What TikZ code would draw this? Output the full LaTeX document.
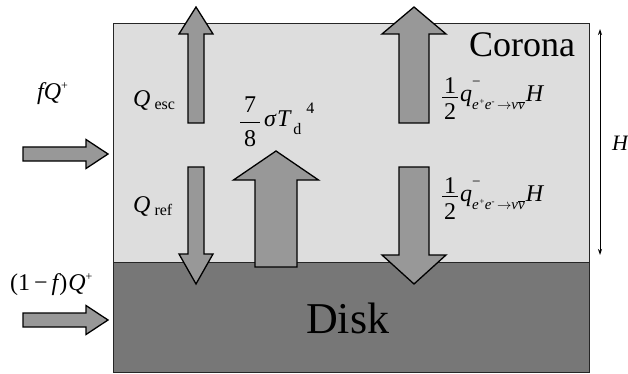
\documentclass[tikz,border=0pt]{standalone}
\usepackage{fontspec}
\setmainfont{Liberation Serif}
\usetikzlibrary{arrows.meta}
\definecolor{coronagray}{HTML}{DDDDDD}
\definecolor{diskgray}{HTML}{777777}
\definecolor{arrowgray}{HTML}{989898}
\tikzset{
  blockarrow/.style={fill=arrowgray,draw=black,line width=1.3pt,line join=miter},
  lab/.style={anchor=base west,inner sep=0pt,font=\fontsize{24}{28}\selectfont},
  region/.style={draw=black!85,line width=0.8pt}
}
\newcommand{\vblock}[6]{% cx, half width, shaft end, head base, head half width, tip
  \draw[blockarrow] (#1-#2,#3) -- (#1-#2,#4) -- (#1-#5,#4) -- (#1,#6) -- (#1+#5,#4) -- (#1+#2,#4) -- (#1+#2,#3) -- cycle;}
\newcommand{\hblock}[6]{% cy, half height, shaft end, head base, head half height, tip
  \draw[blockarrow] (#3,#1-#2) -- (#4,#1-#2) -- (#4,#1-#5) -- (#6,#1) -- (#4,#1+#5) -- (#4,#1+#2) -- (#3,#1+#2) -- cycle;}
% fraction: num, den, width, num raise, den lower
\newcommand{\nfrac}[5]{\rlap{\makebox[#3][c]{\raisebox{#4}{#1}}}\rlap{\rule[4pt]{#3}{0.8pt}}\makebox[#3][c]{\raisebox{-#5}{#2}}}
\newcommand{\smallsz}{\fontsize{16}{18}\selectfont}
\newcommand{\subsz}{\fontsize{15}{17}\selectfont}
\newcommand{\tinysz}{\fontsize{9}{10}\selectfont}
\newcommand{\qlabel}{\nfrac{1}{2}{16pt}{8pt}{18pt}\hspace{2pt}{\itshape q}\rlap{\raisebox{15pt}{\subsz −}}\raisebox{-8pt}{\subsz\itshape e\raisebox{5pt}{\tinysz +}e\raisebox{5pt}{\tinysz -}\,$\rightarrow$ν$\overline{\mbox{ν}}$}\hspace{1pt}{\itshape H}}
\begin{document}
\begin{tikzpicture}[x=1pt,y=-1pt]
\useasboundingbox (0,0) rectangle (628,374);
\fill[white] (0,0) rectangle (628,374);
% regions
\draw[region,fill=coronagray] (113,23) rectangle (589,262);
\draw[region,fill=diskgray] (113,262) rectangle (589,372);
\node[anchor=base west,inner sep=0pt,font=\fontsize{36}{40}\selectfont] (corona) at (469,57) {Corona};
\node[anchor=base west,inner sep=0pt,font=\fontsize{44}{50}\selectfont] (disk) at (306,333) {Disk};
% block arrows
\vblock{196}{8}{123}{34}{17}{7}
\vblock{196}{8}{167}{254}{17}{284}
\vblock{276}{21}{267}{180}{42.5}{151}
\vblock{414}{15}{123}{34}{32}{7}
\vblock{414}{15}{167}{255}{32}{284}
\hblock{154}{7}{23}{86}{14.5}{108}
\hblock{320}{7}{23}{86}{14.5}{108}
% height marker
\coordinate (htop) at (600,29);
\coordinate (hbot) at (600,255);
\draw[{Stealth[length=6pt,width=4pt]}-{Stealth[length=6pt,width=4pt]},line width=0.9pt] (htop) -- (hbot);
\node[lab,font=\fontsize{22}{26}\selectfont] (hlab) at (612,150) {\itshape H};
% labels
\node[lab] (fq) at (37,100) {{\itshape fQ}\raisebox{10pt}{\fontsize{12}{14}\selectfont +}};
\node[lab] (onemf) at (10,290) {(1\,−\,{\itshape f\kern1pt})\kern1pt{\itshape Q}\raisebox{10pt}{\fontsize{12}{14}\selectfont +}};
\node[lab] (qesc) at (133,107) {{\itshape Q}\hspace{4pt}\raisebox{-3pt}{\smallsz esc}};
\node[lab] (qref) at (133,212) {{\itshape Q}\hspace{4pt}\raisebox{-3pt}{\smallsz ref}};
\node[lab] (sig) at (240,127) {\nfrac{7}{8}{20pt}{14pt}{20pt}\hspace{4pt}{\itshape σ\kern1pt T}\hspace{3pt}\raisebox{-8pt}{\smallsz d}\hspace{5pt}\raisebox{13pt}{\smallsz 4}};
\node[lab] (qup) at (442,102) {\qlabel};
\node[lab] (qdn) at (442,201) {\qlabel};
\end{tikzpicture}
\end{document}
